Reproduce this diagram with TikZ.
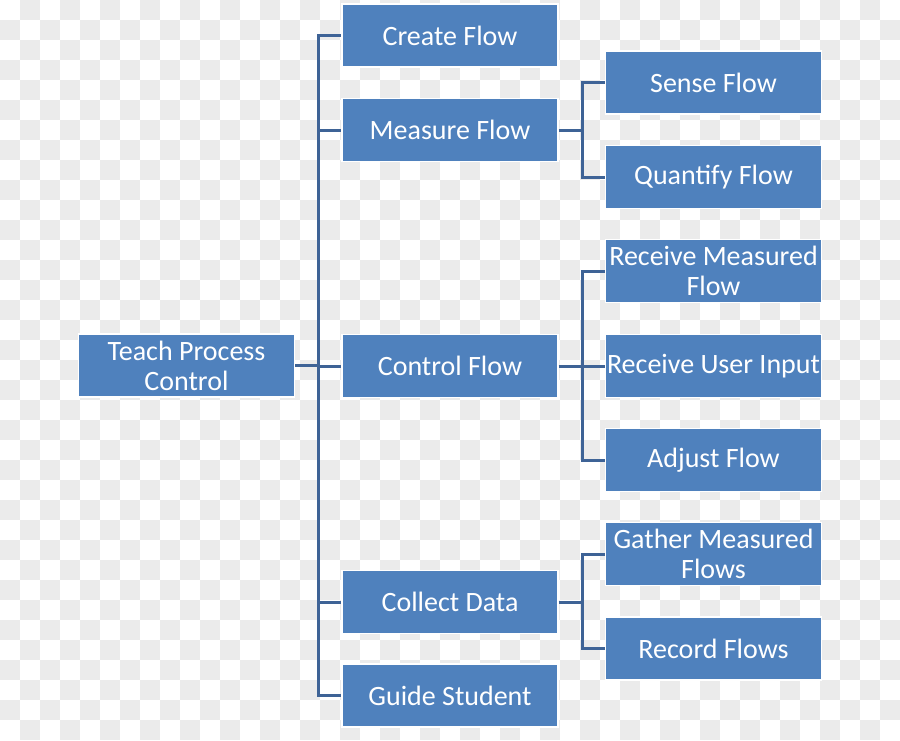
\documentclass[tikz,border=0pt]{standalone}
\usepackage{fontspec}
\setmainfont{Carlito}
\definecolor{boxblue}{RGB}{79,129,189}
\definecolor{linkblue}{RGB}{62,99,150}
\definecolor{checkgray}{RGB}{235,235,235}

\begin{document}
\begin{tikzpicture}[x=0.5pt,y=-0.5pt,
    task/.style={rectangle,fill=boxblue,draw=white,line width=0.8pt,
        minimum width=108pt,minimum height=31.5pt,inner sep=0pt,
        text=white,align=center,font=\fontsize{14}{15}\selectfont},
    link/.style={linkblue,line width=1.5pt}]
    \useasboundingbox (0,0) rectangle (900,740);

    % checkered background
    \foreach \i in {0,40,...,880}
        \foreach \j in {20,60,...,700}
            \fill[checkgray] (\i,\j) rectangle ++(20,20);
    \foreach \i in {20,60,...,860}
        \foreach \j in {0,40,...,720}
            \fill[checkgray] (\i,\j) rectangle ++(20,20);

    % boxes
    \node[task] (teach) at (186.5,365.5) {Teach Process\\Control};

    \node[task] (create) at (450,35.5) {Create Flow};
    \node[task] (measure) at (450,130) {Measure Flow};
    \node[task] (control) at (450,366) {Control Flow};
    \node[task] (collect) at (450,602) {Collect Data};
    \node[task] (guide) at (450,695.5) {Guide Student};

    \node[task] (sense) at (713.5,82.5) {Sense Flow};
    \node[task] (quantify) at (713.5,177) {Quantify Flow};
    \node[task] (rcvmeas) at (713.5,271) {Receive Measured\\Flow};
    \node[task] (rcvuser) at (713.5,366) {Receive User Input};
    \node[task] (adjust) at (713.5,460) {Adjust Flow};
    \node[task] (gather) at (713.5,554) {Gather Measured\\Flows};
    \node[task] (record) at (713.5,648.5) {Record Flows};

    % connectors
    \foreach \c in {create,measure,control,collect,guide}
        \draw[link] (teach.east) -- ++(23.5,0) |- (\c.west);
    \foreach \c in {sense,quantify}
        \draw[link] (measure.east) -- ++(23.5,0) |- (\c.west);
    \foreach \c in {rcvmeas,rcvuser,adjust}
        \draw[link] (control.east) -- ++(23.5,0) |- (\c.west);
    \foreach \c in {gather,record}
        \draw[link] (collect.east) -- ++(23.5,0) |- (\c.west);

\end{tikzpicture}
\end{document}
